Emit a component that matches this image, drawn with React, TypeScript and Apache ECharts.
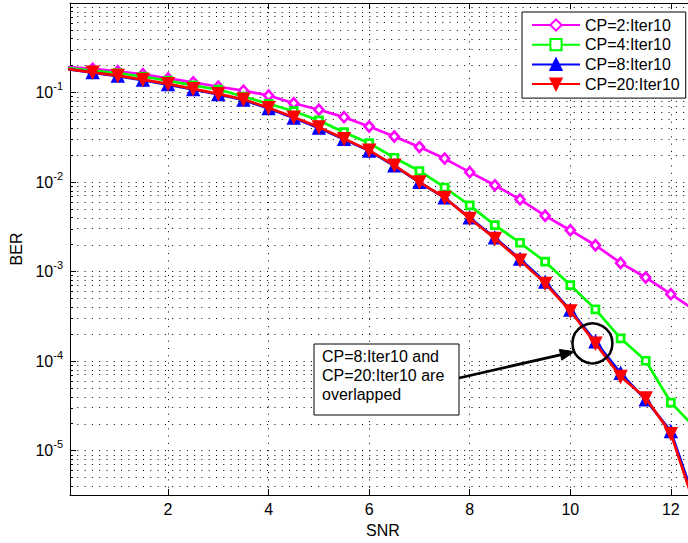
import React, { useEffect, useRef } from "react";
import * as echarts from "echarts";

// ---- data ----
const snr = [0, 0.5, 1, 1.5, 2, 2.5, 3, 3.5, 4, 4.5, 5, 5.5, 6, 6.5, 7, 7.5, 8, 8.5, 9, 9.5, 10, 10.5, 11, 11.5, 12, 12.5];

const berCP2 = [0.192, 0.184, 0.173, 0.16, 0.144, 0.13, 0.116, 0.105, 0.0926, 0.076, 0.0642, 0.0531, 0.0418, 0.0323, 0.0246, 0.0183, 0.0129, 0.0092, 0.0064, 0.0042, 0.0029, 0.00197, 0.00125, 0.00086, 0.00056, 0.000365];
const berCP4 = [0.1875, 0.176, 0.165, 0.151, 0.136, 0.12, 0.108, 0.0902, 0.0748, 0.0619, 0.0488, 0.0361, 0.0272, 0.0187, 0.0133, 0.0087, 0.0055, 0.0033, 0.0021, 0.00129, 0.000707, 0.000379, 0.00018, 0.000101, 3.45e-5, 1.76e-5];
const berCP8 = [0.1827, 0.167, 0.1527, 0.1378, 0.1228, 0.108, 0.095, 0.0825, 0.0663, 0.052, 0.0402, 0.03, 0.0223, 0.0152, 0.00994, 0.00668, 0.004, 0.00239, 0.00138, 0.000764, 0.000372, 0.000165, 7.34e-5, 3.7e-5, 1.64e-5, 2.5e-6];
const berCP20 = [0.1827, 0.1683, 0.1546, 0.1396, 0.125, 0.11, 0.0967, 0.084, 0.0675, 0.0531, 0.0411, 0.0305, 0.0226, 0.0154, 0.01, 0.00671, 0.00392, 0.00234, 0.00134, 0.000739, 0.000363, 0.000158, 6.73e-5, 3.87e-5, 1.55e-5, 2.2e-6];

const seriesNames = ["CP=2:Iter10", "CP=4:Iter10", "CP=8:Iter10", "CP=20:Iter10"];

// ---- axes ----
const xMin = 0.05;
const xMax = 12.5;
const yMin = 3.2e-6;
const yMax = 1;
const xTicks = [2, 4, 6, 8, 10, 12];
const yMajorExps = [-5, -4, -3, -2, -1];
const minorMantissas = [2, 3, 4, 5, 6, 7, 8, 9];
const decades = [-6, -5, -4, -3, -2, -1];

const annotationLines = ["CP=8:Iter10 and", "CP=20:Iter10 are", "overlapped"];
const annotatedIndex = 21; // SNR = 10.5

const FONT = "'Liberation Sans', Arial, Helvetica, sans-serif";
const lg = (v: number) => Math.log10(v);

export default function App() {
  const ref = useRef<HTMLDivElement>(null);

  useEffect(() => {
    if (!ref.current) return;
    const chart = echarts.init(ref.current, undefined, { renderer: "svg" });

    const yLo = lg(yMin);
    const yHi = lg(yMax);
    const minorLogs: number[] = [];
    decades.forEach((d) =>
      minorMantissas.forEach((m) => {
        const v = lg(m) + d;
        if (v >= yLo && v <= yHi) minorLogs.push(v);
      })
    );
    const gridYs = [...yMajorExps, ...minorLogs];

    const toData = (arr: number[]) => snr.map((x, i) => [x, lg(arr[i])]);

    const axisLineStyle = { color: "#000", width: 1 };
    const txt = { fontFamily: FONT, color: "#000", fontSize: 16 };

    const option: any = {
      animation: false,
      backgroundColor: "#fff",
      grid: { left: 70, top: 3, right: 4, bottom: 47, show: false },
      xAxis: [
        {
          type: "value",
          min: xMin,
          max: xMax,
          position: "bottom",
          name: "SNR",
          nameLocation: "middle",
          nameGap: 27,
          nameTextStyle: { ...txt },
          axisLine: { show: true, onZero: false, lineStyle: axisLineStyle },
          axisTick: { show: true, inside: true, length: 6, customValues: xTicks, lineStyle: axisLineStyle },
          axisLabel: { show: true, customValues: xTicks, margin: 6, ...txt },
          splitLine: { show: false },
        },
        {
          type: "value",
          min: xMin,
          max: xMax,
          position: "top",
          axisLine: { show: true, onZero: false, lineStyle: axisLineStyle },
          axisTick: { show: true, inside: true, length: 6, customValues: xTicks, lineStyle: axisLineStyle },
          axisLabel: { show: false },
          splitLine: { show: false },
        },
      ],
      yAxis: [
        {
          type: "value",
          min: yLo,
          max: yHi,
          position: "left",
          name: "BER",
          nameLocation: "middle",
          nameGap: 43,
          nameRotate: 90,
          nameTextStyle: { ...txt },
          axisLine: { show: true, onZero: false, lineStyle: axisLineStyle },
          axisTick: { show: true, inside: true, length: 6, customValues: yMajorExps, lineStyle: axisLineStyle },
          axisLabel: {
            show: true,
            customValues: yMajorExps,
            margin: 7,
            formatter: (v: number) => `{b|10}{s|${Math.round(v)}}`,
            rich: {
              b: { fontFamily: FONT, color: "#000", fontSize: 16, lineHeight: 24, verticalAlign: "middle" },
              s: { fontFamily: FONT, color: "#000", fontSize: 11, lineHeight: 11, verticalAlign: "top" },
            },
          },
          splitLine: { show: false },
        },
        {
          type: "value",
          min: yLo,
          max: yHi,
          position: "left",
          axisLine: { show: false },
          axisTick: { show: true, inside: true, length: 3, customValues: minorLogs, lineStyle: axisLineStyle },
          axisLabel: { show: false },
          splitLine: { show: false },
        },
        {
          type: "value",
          min: yLo,
          max: yHi,
          position: "right",
          axisLine: { show: true, onZero: false, lineStyle: axisLineStyle },
          axisTick: { show: true, inside: true, length: 6, customValues: yMajorExps, lineStyle: axisLineStyle },
          axisLabel: { show: false },
          splitLine: { show: false },
        },
      ],
      legend: {
        orient: "vertical",
        left: 522,
        top: 12,
        itemWidth: 48,
        itemHeight: 14,
        itemGap: 3.7,
        padding: [5, 6, 6, 9],
        backgroundColor: "#fff",
        borderColor: "#000",
        borderWidth: 1,
        borderRadius: 0,
        selectedMode: false,
        textStyle: { ...txt },
        data: seriesNames,
        z: 10,
      },
      series: [
        {
          name: "grid",
          type: "line",
          data: [],
          silent: true,
          z: 1,
          markLine: {
            silent: true,
            animation: false,
            z: 1,
            symbol: ["none", "none"],
            label: { show: false },
            emphasis: { disabled: true },
            lineStyle: { color: "#000", width: 1, type: [1, 6.3] },
            data: [...xTicks.map((x) => ({ xAxis: x })), ...gridYs.map((y) => ({ yAxis: y }))],
          },
        },
        {
          name: seriesNames[0],
          type: "line",
          data: toData(berCP2),
          symbol: "diamond",
          symbolSize: [9, 10],
          lineStyle: { color: "#ff00ff", width: 2.7 },
          itemStyle: { color: "#fff", borderColor: "#ff00ff", borderWidth: 2.6 },
          silent: true,
          z: 2,
        },
        {
          name: seriesNames[1],
          type: "line",
          data: toData(berCP4),
          symbol: "rect",
          symbolSize: 7,
          lineStyle: { color: "#00ff00", width: 2.7 },
          itemStyle: { color: "#fff", borderColor: "#00ff00", borderWidth: 2.7 },
          silent: true,
          z: 3,
        },
        {
          name: seriesNames[2],
          type: "line",
          data: toData(berCP8),
          symbol: "triangle",
          symbolSize: 12,
          lineStyle: { color: "#0000ff", width: 2.7 },
          itemStyle: { color: "#0000ff", borderColor: "#0000ff", borderWidth: 1.5 },
          silent: true,
          z: 4,
        },
        {
          name: seriesNames[3],
          type: "line",
          data: toData(berCP20),
          symbol: "triangle",
          symbolRotate: 180,
          symbolSize: 12,
          lineStyle: { color: "#ff0000", width: 2.7 },
          itemStyle: { color: "#ff0000", borderColor: "#ff0000", borderWidth: 1.5 },
          silent: true,
          z: 5,
        },
      ],
    };

    chart.setOption(option);

    // annotation: circle around the overlapped point, arrow and text box
    const p = chart.convertToPixel({ xAxisIndex: 0, yAxisIndex: 0 }, [snr[annotatedIndex], lg(berCP20[annotatedIndex])]) as number[];
    const cx = p[0] - 3;
    const cy = p[1];
    const r = 20;
    const ang = Math.atan2(8.4, -18.4);
    const tip = [cx + r * Math.cos(ang), cy + r * Math.sin(ang)];
    const boxX = 314;
    const boxY = 344;
    const boxW = 145;
    const boxH = 71;
    const tail = [boxX + boxW, 378];
    const dx = tip[0] - tail[0];
    const dy = tip[1] - tail[1];
    const len = Math.hypot(dx, dy);
    const ux = dx / len;
    const uy = dy / len;
    const headL = 14;
    const headW = 5.5;
    const base = [tip[0] - ux * headL, tip[1] - uy * headL];

    chart.setOption({
      graphic: [
        {
          type: "circle",
          shape: { cx, cy, r },
          style: { fill: "none", stroke: "#000", lineWidth: 2.5 },
          z: 20,
          silent: true,
        },
        {
          type: "line",
          shape: { x1: tail[0], y1: tail[1], x2: base[0] + ux * 2, y2: base[1] + uy * 2 },
          style: { stroke: "#000", lineWidth: 2.8 },
          z: 20,
          silent: true,
        },
        {
          type: "polygon",
          shape: {
            points: [
              tip,
              [base[0] - uy * headW, base[1] + ux * headW],
              [base[0] + uy * headW, base[1] - ux * headW],
            ],
          },
          style: { fill: "#000", stroke: "#000", lineWidth: 1 },
          z: 20,
          silent: true,
        },
        {
          type: "rect",
          shape: { x: boxX, y: boxY, width: boxW, height: boxH },
          style: { fill: "#fff", stroke: "#000", lineWidth: 1 },
          z: 20,
          silent: true,
        },
        {
          type: "text",
          x: boxX + 8,
          y: boxY + 3,
          style: {
            text: annotationLines.join("\n"),
            font: `16px ${FONT}`,
            fill: "#000",
            lineHeight: 19,
            align: "left",
            verticalAlign: "top",
          },
          z: 21,
          silent: true,
        },
      ],
    });

    return () => chart.dispose();
  }, []);

  return (
    <div style={{ position: "fixed", left: 0, top: 0, width: 688, height: 543, overflow: "hidden", background: "#fff" }}>
      <div ref={ref} style={{ width: 700, height: 543 }} />
    </div>
  );
}
